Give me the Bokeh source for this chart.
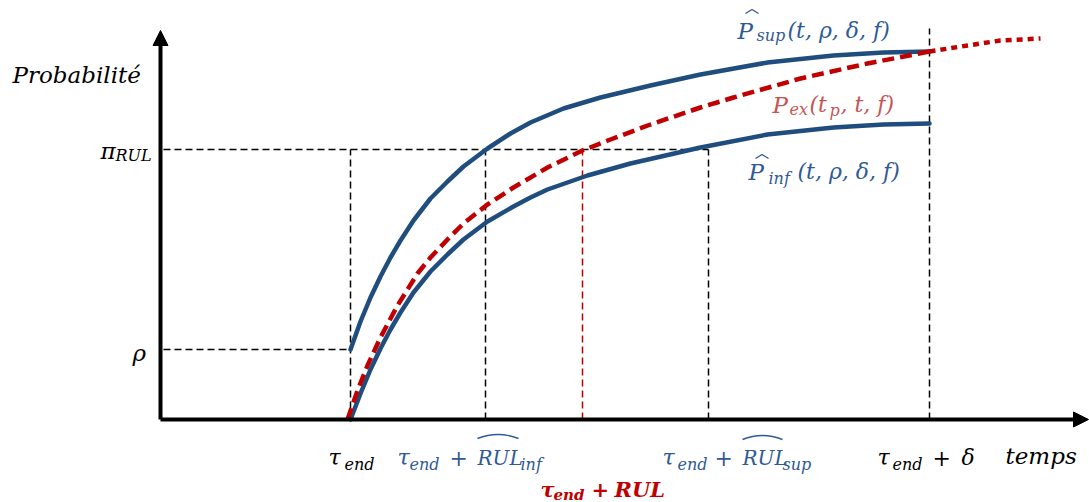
from bokeh.plotting import figure
from bokeh.models import Range1d, Arrow, NormalHead
from bokeh.core.properties import value
from bokeh.embed import file_html
from bokeh.resources import INLINE

# ---------------- data (time t, probability p; schematic units) ----------------
t_sup = [190, 200, 210, 220, 230, 240, 253, 270, 287, 303, 327, 350, 370, 403, 440, 490, 540, 607, 673, 723, 769]
p_sup = [70, 98, 122, 143, 162, 179, 199, 221, 238, 253, 271, 286, 297, 311, 322, 334, 345, 357, 364, 367, 368]

t_inf = [190, 200, 210, 220, 230, 240, 253, 270, 287, 303, 327, 353, 370, 387, 427, 470, 540, 607, 673, 723, 769]
p_inf = [0, 26, 50, 71, 90, 107, 127, 148, 165, 180, 198, 213, 222, 230, 244, 256, 272, 285, 292, 295, 296]

t_ex = [187, 197, 207, 220, 237, 257, 270, 287, 303, 327, 353, 387, 422, 450, 490, 540, 573, 640, 707, 769]
p_ex = [0, 29, 54, 82, 114, 146, 162, 180, 196, 215, 232, 252, 269, 280, 295, 312, 322, 341, 356, 368]

t_ex_ext = [769, 807, 840, 880]
p_ex_ext = [368, 374, 379, 381]

tau_end = 190
rul_inf = 325
rul = 422
rul_sup = 548
delta = 769
rho = 70
pi_rul = 270
t_axis_end = 928
p_axis_end = 389

BLUE = "#1F4E7E"
BLUE_TXT = "#2E5A96"
RED = "#C00000"
RED_TXT = "#C65454"
FONT = "DejaVu Serif"

# pixel helpers for annotation layout (reference pixel -> data)
def X(px):
    return px - 160

def Y(py):
    return 419 - py

p = figure(width=1089, height=502, output_backend="svg", toolbar_location=None,
           x_range=Range1d(-160, 929), y_range=Range1d(-83, 419),
           x_axis_location=None, y_axis_location=None, min_border=0)
p.grid.visible = False
p.outline_line_color = None
p.background_fill_color = "white"
p.border_fill_color = "white"

# axes
p.add_layout(Arrow(end=NormalHead(size=15, fill_color="black", line_color="black", line_width=1),
                   x_start=0, y_start=0, x_end=0, y_end=p_axis_end, line_width=4, line_color="black"))
p.add_layout(Arrow(end=NormalHead(size=15, fill_color="black", line_color="black", line_width=1),
                   x_start=0, y_start=0, x_end=t_axis_end, y_end=0, line_width=4, line_color="black"))

# guide lines
dash = dict(line_color="black", line_width=1.5, line_dash="7 4")
p.line([3, rul_sup], [pi_rul, pi_rul], **dash)
p.line([3, tau_end], [rho, rho], **dash)
p.line([tau_end, tau_end], [0, pi_rul], **dash)
p.line([rul_inf, rul_inf], [0, pi_rul], **dash)
p.line([rul_sup, rul_sup], [0, pi_rul], **dash)
p.line([delta, delta], [0, Y(28)], **dash)
p.line([rul, rul], [0, pi_rul], line_color=RED, line_width=1.5, line_dash="7 4")

# curves
p.line(t_sup, p_sup, line_color=BLUE, line_width=4.5, line_cap="round", line_join="round")
p.line(t_inf, p_inf, line_color=BLUE, line_width=4.5, line_cap="round", line_join="round")
p.line(t_ex, p_ex, line_color=RED, line_width=4.5, line_dash="12 6", line_join="round")
p.line(t_ex_ext, p_ex_ext, line_color=RED, line_width=4.5, line_dash="6 5")


def put(s, px, py, size, color, style="italic"):
    p.text(x=[X(px)], y=[Y(py)], text=[s], text_font=value(FONT),
           text_font_size=f"{size}px", text_font_style=style, text_color=color,
           text_baseline="alphabetic", text_align="left")


def chevron(x0, x1, ytop, ybot, color):
    p.line([X(x0), X((x0 + x1) / 2), X(x1)], [Y(ybot), Y(ytop), Y(ybot)],
           line_color=color, line_width=1.3)


def widehat(x0, x1, ytop, ybot, color):
    p.quadratic(x0=[X(x0)], y0=[Y(ybot)], x1=[X(x1)], y1=[Y(ybot)],
                cx=[X((x0 + x1) / 2)], cy=[Y(2 * ytop - ybot)],
                line_color=color, line_width=1.4)


# y labels
put("Probabilité", 12, 74, 23, "black")
put("π", 100, 150, 23, "black")
put("RUL", 115, 155, 16, "black")
put("ρ", 132, 352, 23, "black")

# x labels
put("τ", 328, 457, 22, "black")
put("end", 344, 464, 16, "black")

put("τ", 397, 457, 22, BLUE_TXT)
put("end", 409, 464, 16, BLUE_TXT)
put("+", 449, 457, 22, BLUE_TXT, "normal")
put("RUL", 477, 457, 20, BLUE_TXT)
widehat(477, 518, 434, 438, BLUE_TXT)
put("inf", 520, 464, 16, BLUE_TXT)

put("τ", 540, 489, 21, RED, "bold italic")
put("end", 553, 494, 15, RED, "bold italic")
put("+", 591, 489, 21, RED, "bold")
put("RUL", 614, 489, 21, RED, "bold italic")

put("τ", 662, 457, 22, BLUE_TXT)
put("end", 677, 464, 16, BLUE_TXT)
put("+", 714, 457, 22, BLUE_TXT, "normal")
put("RUL", 742, 457, 20, BLUE_TXT)
widehat(742, 782, 435, 439, BLUE_TXT)
put("sup", 782, 464, 16, BLUE_TXT)

put("τ", 877, 457, 22, "black")
put("end", 892, 464, 16, "black")
put("+", 932, 457, 22, "black", "normal")
put("δ", 961, 457, 22, "black")

put("temps", 1005, 455, 23, "black")

# curve labels
put("P", 737, 30, 23, BLUE_TXT)
chevron(745, 758, 9, 13, BLUE_TXT)
put("sup", 756, 35, 16, BLUE_TXT)
put("(t, ρ, δ, f)", 787, 30, 22, BLUE_TXT)

put("P", 772, 104, 23, RED_TXT)
put("ex", 789, 109, 16, RED_TXT)
put("(t", 809, 104, 22, RED_TXT)
put("p", 829, 110, 16, RED_TXT)
put(", t, f)", 840, 104, 22, RED_TXT)

put("P", 748, 171, 23, BLUE_TXT)
chevron(755, 768, 154, 158, BLUE_TXT)
put("inf", 768, 178, 16, BLUE_TXT)
put("(t, ρ, δ, f)", 797, 171, 22, BLUE_TXT)

open("out.html", "w").write(file_html(p, INLINE))
